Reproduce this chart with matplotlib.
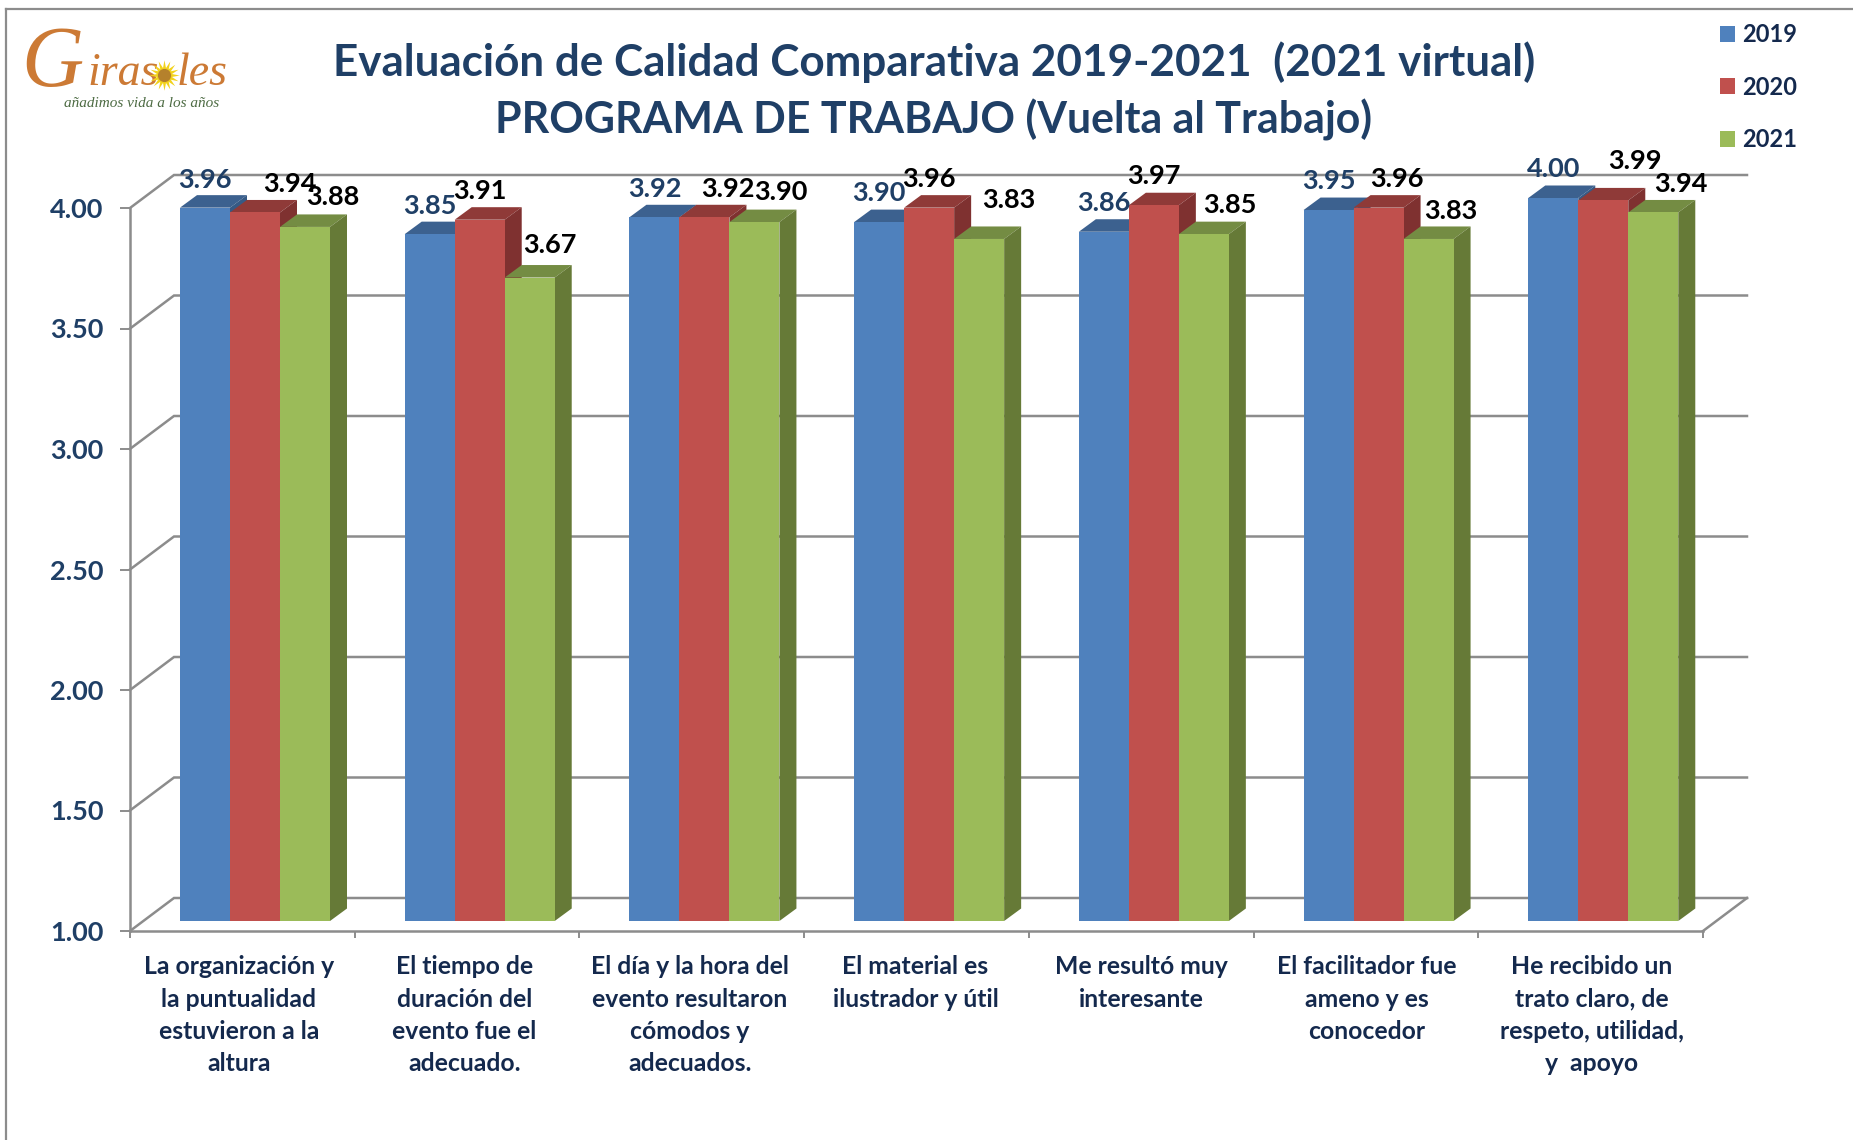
import matplotlib
matplotlib.use('Agg')
import matplotlib.pyplot as plt
from matplotlib.patches import Polygon

WIDTH, HEIGHT = 1853, 1140

categories = [
    'La organización y\nla puntualidad\nestuvieron a la\naltura',
    'El tiempo de\nduración del\nevento fue el\nadecuado.',
    'El día y la hora del\nevento resultaron\ncómodos y\nadecuados.',
    'El material es\nilustrador y útil',
    'Me resultó muy\ninteresante',
    'El facilitador fue\nameno y es\nconocedor',
    'He recibido un\ntrato claro, de\nrespeto, utilidad,\ny  apoyo',
]
years = ['2019', '2020', '2021']
values_2019 = [3.96, 3.85, 3.92, 3.90, 3.86, 3.95, 4.00]
values_2020 = [3.94, 3.91, 3.92, 3.96, 3.97, 3.96, 3.99]
values_2021 = [3.88, 3.67, 3.90, 3.83, 3.85, 3.83, 3.94]
y_ticks = [1.0, 1.5, 2.0, 2.5, 3.0, 3.5, 4.0]

# hand placed data labels, pixels from the top centre of each bar
shift_x_2019 = [0, 0, 0, 0, 0, 0, 0]
shift_x_2020 = [35, 0, 23, 0, 0, 18, 32]
shift_x_2021 = [28, 20, 26, 30, 26, 22, 28]
shift_y_2019 = [28, 28, 28, 29, 29, 29, 29]
shift_y_2020 = [28, 29, 28, 29, 29, 29, 39]
shift_y_2021 = [30, 33, 30, 39, 29, 28, 28]

FRONT = ['#4f81bd', '#c0504d', '#9bbb59']
TOP = ['#3c618f', '#8f3a38', '#748c43']
SIDE = ['#365a85', '#7f3130', '#667a37']
GRID = '#8c8c8c'
NAVY = '#1f3f66'
DARK = '#14294d'

plt.rcParams['font.family'] = ['Lato', 'DejaVu Sans']
plt.rcParams['font.weight'] = 'bold'

fig = plt.figure(figsize=(WIDTH / 100, HEIGHT / 100), dpi=100)
fig.patch.set_facecolor('white')

# outer frame of the slide
fig.add_artist(plt.Line2D([6 / WIDTH, 6 / WIDTH], [0, 1 - 9 / HEIGHT], color=GRID, lw=1.6))
fig.add_artist(plt.Line2D([6 / WIDTH, 1], [1 - 9 / HEIGHT, 1 - 9 / HEIGHT], color=GRID, lw=1.6))

ax = fig.add_axes([130 / WIDTH, 1 - 931 / HEIGHT, 1573 / WIDTH, 723 / HEIGHT])
ax.set_xlim(0, 7)
ax.set_ylim(1, 4)
ax.patch.set_alpha(0)

px_x = 7 / 1573
px_y = 3 / 723

# back wall and floor of the 3d box
back_dx = 44 * px_x
back_dy = 33 * px_y
for tick in y_ticks:
    ax.plot([0, back_dx, 7 + back_dx], [tick, tick + back_dy, tick + back_dy],
            color=GRID, lw=1.8, clip_on=False, zorder=1, solid_joinstyle='miter')
ax.plot([7, 7 + back_dx], [1, 1 + back_dy], color=GRID, lw=1.8, clip_on=False, zorder=1)

# bars: front face from ax.bar, top and side polygons added on top
bar_w = 50 * px_x
start = 50 * px_x
floor = 1 + 10 * px_y
depth_x = 17 * px_x
depth_y = 12.5 * px_y
series = [values_2019, values_2020, values_2021]
shifts_x = [shift_x_2019, shift_x_2020, shift_x_2021]
shifts_y = [shift_y_2019, shift_y_2020, shift_y_2021]
containers = []
for s, vals in enumerate(series):
    xs = [i + start + s * bar_w for i in range(len(vals))]
    heights = [v - 1 for v in vals]
    bars = ax.bar(xs, heights, bar_w, bottom=floor, align='edge', color=FRONT[s],
                  zorder=3 + s * 2 + 1, clip_on=False, linewidth=0)
    containers.append(bars)
    for x, v in zip(xs, vals):
        top = v + 10 * px_y
        ax.add_patch(Polygon([(x, top), (x + depth_x, top + depth_y),
                              (x + bar_w + depth_x, top + depth_y), (x + bar_w, top)],
                             closed=True, fc=TOP[s], ec='none', zorder=3 + s * 2, clip_on=False))
        ax.add_patch(Polygon([(x + bar_w, top), (x + bar_w + depth_x, top + depth_y),
                              (x + bar_w + depth_x, floor + depth_y), (x + bar_w, floor)],
                             closed=True, fc=SIDE[s], ec='none', zorder=3 + s * 2, clip_on=False))

for s, vals in enumerate(series):
    label_color = NAVY if s == 0 else 'black'
    for i, v in enumerate(vals):
        x = i + start + s * bar_w + bar_w / 2
        ax.annotate(f'{v:.2f}', (x, v + 10 * px_y),
                    xytext=(shifts_x[s][i], shifts_y[s][i]), textcoords='offset pixels',
                    ha='center', va='center', fontsize=19.5, color=label_color,
                    fontweight='bold', zorder=20, annotation_clip=False)

for name in ['top', 'right']:
    ax.spines[name].set_visible(False)
for name in ['left', 'bottom']:
    ax.spines[name].set_color(GRID)
    ax.spines[name].set_linewidth(1.8)

ax.set_yticks(y_ticks)
ax.set_yticklabels([f'{t:.2f}' for t in y_ticks], fontsize=19.5, color=NAVY, fontweight='bold')
ax.tick_params(axis='y', length=7, width=1.4, color=GRID, pad=12)

ax.set_xticks(range(8))
ax.set_xticklabels([''] * 8)
ax.tick_params(axis='x', which='major', length=5, width=1.4, color=GRID)
ax.set_xticks([i * 1.0035 + 0.485 for i in range(7)], minor=True)
ax.set_xticklabels(categories, minor=True, fontsize=17.8, color=DARK, fontweight='bold',
                   linespacing=1.49, va='top')
ax.tick_params(axis='x', which='minor', length=0, pad=17.5)

# title
fig.text(934 / WIDTH, 1 - 62 / HEIGHT, 'Evaluación de Calidad Comparativa 2019-2021  (2021 virtual)',
         ha='center', va='center', fontsize=31.7, color=NAVY, fontweight='bold')
fig.text(934 / WIDTH, 1 - 119.5 / HEIGHT, 'PROGRAMA DE TRABAJO (Vuelta al Trabajo)',
         ha='center', va='center', fontsize=30.9, color=NAVY, fontweight='bold')

# legend
fig.legend([c[0] for c in containers], years, loc='upper left',
           bbox_to_anchor=(1720 / WIDTH, 1 - 23 / HEIGHT), frameon=False,
           handlelength=0.65, handleheight=0.65, handletextpad=0.3,
           labelspacing=1.25, borderpad=0, borderaxespad=0,
           prop={'size': 17, 'weight': 'bold'}, labelcolor=DARK)

# logo
logo = fig.add_axes([0, 1 - 125 / HEIGHT, 250 / WIDTH, 125 / HEIGHT])
logo.set_xlim(0, 250)
logo.set_ylim(125, 0)
logo.axis('off')
logo_color = '#cc7a35'
logo.text(21, 86, 'G', family='Liberation Serif', style='italic', fontsize=62,
          color=logo_color, fontweight='normal', va='baseline')
logo.text(87, 85, 'iras', family='Liberation Serif', style='italic', fontsize=33,
          color=logo_color, fontweight='normal', va='baseline')
logo.text(177, 85, 'les', family='Liberation Serif', style='italic', fontsize=33,
          color=logo_color, fontweight='normal', va='baseline')
logo.scatter([164], [75], s=480, marker=(16, 1, 0), color='#f2d21b', linewidths=0, zorder=3)
logo.scatter([164], [75], s=90, color='#b5812c', linewidths=0, zorder=4)
logo.text(64, 107, 'añadimos vida a los años', family='Liberation Serif', style='italic',
          fontsize=11, color='#4d6b43', fontweight='normal', va='baseline')

fig.savefig('out.png', dpi=100, facecolor='white')
